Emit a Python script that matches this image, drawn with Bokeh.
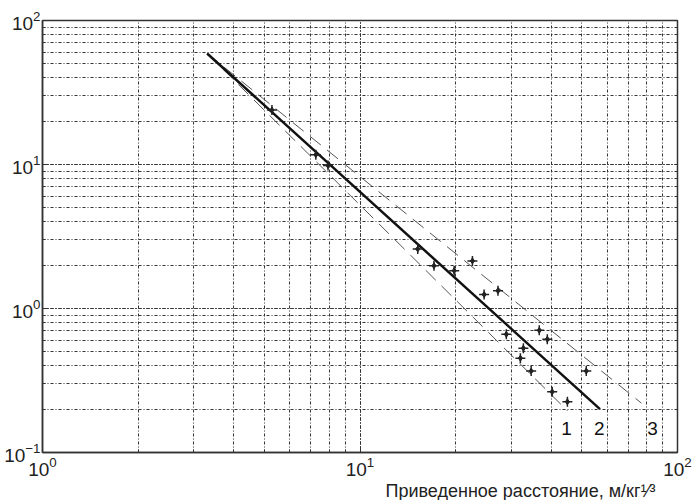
from bokeh.plotting import figure
from bokeh.models import Range1d, Title
from bokeh.embed import file_html
from bokeh.resources import INLINE
from bokeh.core.properties import value

# Curve 2 (main fit), curve 1 (lower bound), curve 3 (upper bound)
line2_x = [3.3, 57.0]
line2_y = [59.0, 0.2]
line1_x = [3.3, 45.0]
line1_y = [59.0, 0.195]
line3_x = [3.3, 77.0]
line3_y = [59.0, 0.22]

# Experimental points
pts_x = [5.28, 7.26, 7.93, 15.2, 17.1, 19.8, 22.6, 24.6, 27.2,
         28.9, 36.7, 38.9, 32.7, 32.0, 34.6, 51.6, 40.3, 45.0]
pts_y = [23.9, 11.7, 9.84, 2.59, 1.98, 1.83, 2.14, 1.25, 1.33,
         0.662, 0.705, 0.611, 0.53, 0.452, 0.368, 0.368, 0.264, 0.225]

# Curve labels
curve_labels = ["1", "2", "3"]
curve_label_x = [44.7, 56.7, 83.4]
curve_label_y = [0.147, 0.147, 0.147]

x_label = "Приведенное расстояние, м/кг\u00b9\u2044\u00b3"

FONT = "Liberation Sans"

p = figure(width=693, height=500, x_axis_type="log", y_axis_type="log",
           x_range=Range1d(1, 100), y_range=Range1d(0.1, 100),
           output_backend="svg", toolbar_location=None,
           min_border_left=42, min_border_right=16,
           min_border_top=20, min_border_bottom=46)

p.background_fill_color = "white"
p.border_fill_color = "white"
p.outline_line_color = "#333333"
p.outline_line_width = 1.5

for g in (p.xgrid, p.ygrid):
    g.grid_line_color = "#333333"
    g.grid_line_dash = "3 2 1 2"
    g.grid_line_width = 1
    g.minor_grid_line_color = "#333333"
    g.minor_grid_line_dash = "3 2 1 2"
    g.minor_grid_line_width = 1

for ax in (p.xaxis[0], p.yaxis[0]):
    ax.axis_line_color = "#333333"
    ax.axis_line_width = 1.5
    ax.major_tick_in = 6
    ax.major_tick_out = 0
    ax.minor_tick_in = 3
    ax.minor_tick_out = 0
    ax.major_tick_line_color = "#333333"
    ax.minor_tick_line_color = "#333333"
    ax.major_label_text_font = FONT
    ax.major_label_text_font_size = "19px"
    ax.major_label_text_color = "#222222"

p.xaxis[0].major_label_standoff = 4
p.yaxis[0].major_label_standoff = 2

# Lines
p.line(line1_x, line1_y, line_color="#555555", line_width=1, line_dash="14 8")
p.line(line3_x, line3_y, line_color="#555555", line_width=1, line_dash="14 8")
p.line(line2_x, line2_y, line_color="#111111", line_width=2.5)

# Points
p.scatter(pts_x, pts_y, marker="cross", size=10, line_width=1.5, color="#222222")
p.scatter(pts_x, pts_y, marker="diamond", size=6, color="#222222")

# Curve numbers
p.text(x=curve_label_x, y=curve_label_y, text=curve_labels,
       text_align="center", text_baseline="middle",
       text_font=value(FONT), text_font_size="19px", text_color="#111111")

# X-axis label, right-aligned like in the reference
p.add_layout(Title(text=x_label, align="right", offset=22, standoff=0,
                   text_font=FONT, text_font_size="18px",
                   text_font_style="normal", text_color="#222222"), "below")

open("out.html", "w").write(file_html(p, INLINE))
